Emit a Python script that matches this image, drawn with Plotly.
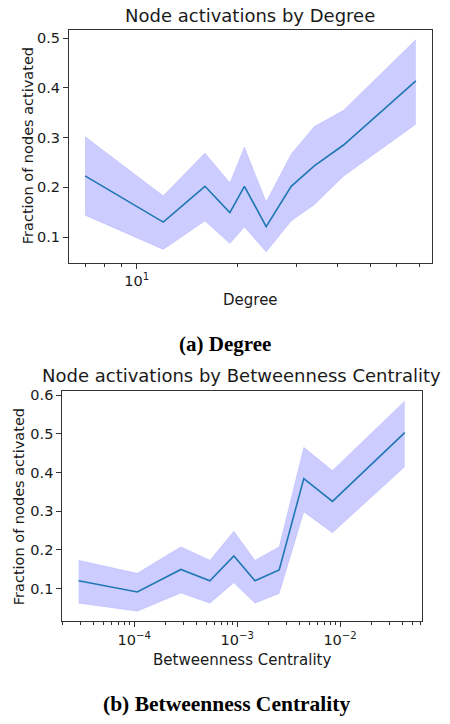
import plotly.graph_objects as go

# ---- Data: Degree chart ----
deg_x = [7, 12, 16, 19, 21, 24.4, 29, 34, 41.6, 68.5]
deg_mean = [0.223, 0.130, 0.202, 0.149, 0.202, 0.121, 0.202, 0.243, 0.285, 0.414]
deg_upper = [0.302, 0.183, 0.269, 0.209, 0.281, 0.171, 0.267, 0.322, 0.355, 0.497]
deg_lower = [0.144, 0.075, 0.132, 0.087, 0.120, 0.070, 0.132, 0.165, 0.222, 0.327]

# ---- Data: Betweenness chart ----
bc_x = [2.88e-5, 1.07e-4, 2.84e-4, 5.43e-4, 9.29e-4, 1.49e-3, 2.56e-3, 4.44e-3, 8.43e-3, 4.25e-2]
bc_mean = [0.120, 0.091, 0.149, 0.120, 0.184, 0.120, 0.148, 0.384, 0.325, 0.503]
bc_upper = [0.173, 0.139, 0.208, 0.173, 0.248, 0.173, 0.208, 0.465, 0.405, 0.585]
bc_lower = [0.062, 0.041, 0.088, 0.062, 0.115, 0.062, 0.087, 0.298, 0.244, 0.415]

deg_ticks = [10]
deg_ticktext = ["10<sup>1</sup>"]
deg_minor = [7, 8, 9, 20, 30, 40, 50, 60, 70]
deg_yticks = [0.1, 0.2, 0.3, 0.4, 0.5]

bc_ticks = [1e-4, 1e-3, 1e-2]
bc_ticktext = ["10<sup>−4</sup>", "10<sup>−3</sup>", "10<sup>−2</sup>"]
bc_minor = [m * 10 ** e for e in (-5, -4, -3, -2) for m in range(2, 10)]
bc_yticks = [0.1, 0.2, 0.3, 0.4, 0.5, 0.6]

W, H = 450, 724
FILL = "rgba(0,0,255,0.2)"
LINE = "#1f77b4"
FONT = "DejaVu Sans"
TXT = "#1a1a1a"

fig = go.Figure()


def add_band(x, lo, hi, mean, xa, ya):
    fig.add_trace(go.Scatter(x=x, y=hi, mode="lines", line=dict(width=0.6, color="rgba(0,0,255,0.15)"),
                             xaxis=xa, yaxis=ya, showlegend=False, hoverinfo="skip"))
    fig.add_trace(go.Scatter(x=x, y=lo, mode="lines", line=dict(width=0.6, color="rgba(0,0,255,0.15)"),
                             fill="tonexty", fillcolor=FILL,
                             xaxis=xa, yaxis=ya, showlegend=False, hoverinfo="skip"))
    fig.add_trace(go.Scatter(x=x, y=mean, mode="lines", line=dict(width=1.6, color=LINE),
                             xaxis=xa, yaxis=ya, showlegend=False))


add_band(deg_x, deg_lower, deg_upper, deg_mean, "x", "y")
add_band(bc_x, bc_lower, bc_upper, bc_mean, "x2", "y2")


def px(v):
    return v / W


def py(v):
    return 1 - v / H


axis_common = dict(showline=True, linecolor="#333333", linewidth=1, mirror=True,
                   ticks="outside", tickcolor="#333333", ticklen=5, tickwidth=1,
                   showgrid=False, zeroline=False,
                   tickfont=dict(family=FONT, size=14.5, color=TXT))

fig.update_layout(
    width=W, height=H,
    margin=dict(l=0, r=0, t=0, b=0),
    paper_bgcolor="white", plot_bgcolor="white",
    xaxis=dict(type="log", domain=[px(69), px(432)], anchor="y",
               range=[0.797, 1.884], tickvals=deg_ticks, ticktext=deg_ticktext,
               minor=dict(tickvals=deg_minor, ticks="outside", ticklen=3, tickcolor="#333333", showgrid=False),
               **axis_common),
    yaxis=dict(domain=[py(260), py(26)], anchor="x", range=[0.0486, 0.5166],
               tickvals=deg_yticks, ticktext=["0.1", "0.2", "0.3", "0.4", "0.5"], **axis_common),
    xaxis2=dict(type="log", domain=[px(62.3), px(421.7)], anchor="y2",
                range=[-4.699, -1.207], tickvals=bc_ticks, ticktext=bc_ticktext,
                minor=dict(tickvals=bc_minor, ticks="outside", ticklen=3, tickcolor="#333333", showgrid=False),
                **axis_common),
    yaxis2=dict(domain=[py(620.7), py(389)], anchor="x2", range=[0.0151, 0.611],
                tickvals=bc_yticks, ticktext=["0.1", "0.2", "0.3", "0.4", "0.5", "0.6"], **axis_common),
)

ann = [
    dict(text="Node activations by Degree", x=px(250), y=py(12), size=18, family=FONT, angle=0),
    dict(text="Fraction of nodes activated", x=px(28), y=py(143), size=14.5, family=FONT, angle=-90),
    dict(text="Degree", x=px(250), y=py(298), size=15, family=FONT, angle=0),
    dict(text="<b>(a) Degree</b>", x=px(225), y=py(342), size=21, family="Liberation Serif", angle=0),
    dict(text="Node activations by Betweenness Centrality", x=px(241), y=py(374), size=18, family=FONT, angle=0),
    dict(text="Fraction of nodes activated", x=px(19), y=py(506), size=14.5, family=FONT, angle=-90),
    dict(text="Betweenness Centrality", x=px(242), y=py(660), size=15, family=FONT, angle=0),
    dict(text="<b>(b) Betweenness Centrality</b>", x=px(226), y=py(704), size=21.5, family="Liberation Serif", angle=0),
]
for a in ann:
    fig.add_annotation(text=a["text"], x=a["x"], y=a["y"], xref="paper", yref="paper",
                       xanchor="center", yanchor="middle", showarrow=False, textangle=a["angle"],
                       font=dict(family=a["family"], size=a["size"], color="black" if "<b>" in a["text"] else TXT))

fig.write_html("out.html", config={"displayModeBar": False},
               post_script="document.body.style.margin='0px';document.body.style.overflow='hidden';")
